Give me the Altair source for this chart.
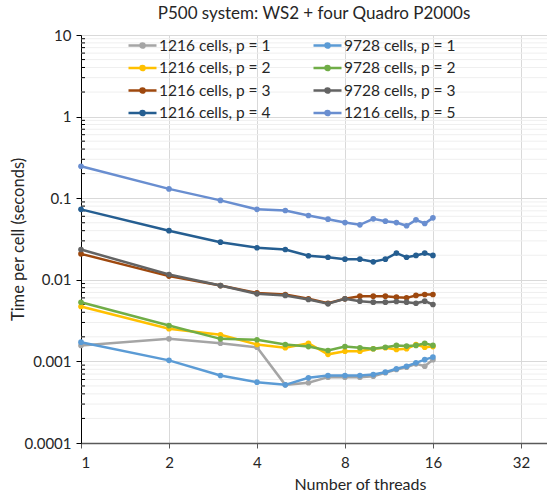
import altair as alt
import pandas as pd

# ---------------- data ----------------
threads = list(range(1, 17))

series_names = [
    "1216 cells, p = 1", "9728 cells, p = 1",
    "1216 cells, p = 2", "9728 cells, p = 2",
    "1216 cells, p = 3", "9728 cells, p = 3",
    "1216 cells, p = 4", "1216 cells, p = 5",
]
series_colors = ["#A5A5A5", "#5B9BD5", "#FFC000", "#70AD47",
                 "#9E480E", "#636363", "#255E91", "#698ED0"]
# legend lists column by column
legend_order = [
    "1216 cells, p = 1", "1216 cells, p = 2", "1216 cells, p = 3", "1216 cells, p = 4",
    "9728 cells, p = 1", "9728 cells, p = 2", "9728 cells, p = 3", "1216 cells, p = 5",
]

t_1216_p1 = [0.00157, 0.00189, 0.00167, 0.00149, 0.000516, 0.000547, 0.000641, 0.000641,
             0.000641, 0.000659, 0.000725, 0.000796, 0.000849, 0.000933, 0.000873, 0.00105]
t_9728_p1 = [0.00172, 0.00103, 0.000671, 0.000556, 0.000516, 0.000629, 0.000672, 0.000672,
             0.000672, 0.00069, 0.000738, 0.000811, 0.000873, 0.000961, 0.00105, 0.00113]
t_1216_p2 = [0.00471, 0.00251, 0.00212, 0.00161, 0.00147, 0.00167, 0.00122, 0.00133,
             0.00133, 0.00143, 0.00147, 0.00140, 0.00143, 0.00161, 0.00149, 0.00152]
t_9728_p2 = [0.00531, 0.00275, 0.00189, 0.00184, 0.00161, 0.00152, 0.00136, 0.00152,
             0.00147, 0.00143, 0.00149, 0.00157, 0.00154, 0.00157, 0.00167, 0.00157]
t_1216_p3 = [0.0208, 0.0111, 0.0085, 0.0069, 0.00661, 0.00585, 0.00516, 0.00585,
             0.0063, 0.0063, 0.0063, 0.00612, 0.00601, 0.00643, 0.00661, 0.00661]
t_9728_p3 = [0.0235, 0.0116, 0.0085, 0.00673, 0.00643, 0.00574, 0.00508, 0.00585,
             0.00547, 0.00532, 0.00532, 0.00542, 0.00532, 0.00516, 0.00547, 0.00498]
t_1216_p4 = [0.073, 0.040, 0.0289, 0.0247, 0.0235, 0.0197, 0.0189, 0.0179,
             0.0179, 0.0166, 0.0179, 0.0212, 0.0189, 0.0199, 0.0212, 0.0199]
t_1216_p5 = [0.246, 0.130, 0.094, 0.073, 0.0706, 0.0614, 0.0553, 0.0503,
             0.0472, 0.0559, 0.0523, 0.0503, 0.0459, 0.0543, 0.049, 0.0574]

series_values = [t_1216_p1, t_9728_p1, t_1216_p2, t_9728_p2,
                 t_1216_p3, t_9728_p3, t_1216_p4, t_1216_p5]

x_ticks = [1, 2, 4, 8, 16, 32]
y_major = [0.0001, 0.001, 0.01, 0.1, 1, 10]
y_minor = [m * 10.0 ** e for e in range(-4, 1) for m in range(2, 10)]

rows = []
for name, vals in zip(series_names, series_values):
    for t, v in zip(threads, vals):
        rows.append({"threads": t, "time": v, "series": name})
df = pd.DataFrame(rows)
minor_df = pd.DataFrame({"time": y_minor})

# ---------------- layout ----------------
W, H = 466, 408
FONT = "Lato"
TXT = "#262626"

xscale = alt.Scale(type="log", base=2, domain=[1, 39.3], nice=False)
yscale = alt.Scale(type="log", domain=[0.0001, 10], nice=False)

x_axis = alt.Axis(values=x_ticks, format="~g", title="Number of threads",
                  grid=True, gridColor="#D9D9D9", tickSize=5, tickColor="#595959",
                  domainColor="#595959", domainWidth=1.5, labelFontSize=15,
                  labelPadding=7, titleFontSize=16, titleFontWeight="normal",
                  titleX=279, titleY=46, titleAlign="center", titleBaseline="alphabetic",
                  labelFont=FONT, titleFont=FONT, labelColor=TXT, titleColor=TXT)
y_axis = alt.Axis(values=y_major, format="~g", title="Time per cell (seconds)",
                  grid=True, gridColor="#D9D9D9", tickSize=5, tickColor="#000000",
                  domainColor="#000000", labelFontSize=15, labelPadding=5,
                  titleFontSize=16.5, titleFontWeight="normal",
                  titleX=-63, titleY=H / 2, titleAngle=270, titleAlign="center",
                  titleBaseline="middle",
                  labelFont=FONT, titleFont=FONT, labelColor=TXT, titleColor=TXT)

legend_symbol = "M-1,0H3M1.3,0A0.3,0.3,0,1,1,0.7,0A0.3,0.3,0,1,1,1.3,0Z"
legend = alt.Legend(orient="none", legendX=46, legendY=2, columns=2, title=None,
                    symbolType=legend_symbol, symbolSize=196, symbolStrokeWidth=2.5,
                    labelFontSize=15.5, labelFont=FONT, labelColor=TXT, labelOffset=15,
                    rowPadding=5.5, columnPadding=37, padding=0, labelLimit=300)

color_enc = alt.Color("series:N",
                      scale=alt.Scale(domain=legend_order,
                                      range=[series_colors[series_names.index(n)]
                                             for n in legend_order]),
                      legend=legend)

minor_grid = alt.Chart(minor_df).mark_rule(color="#EFEFEF", strokeWidth=1).encode(
    y=alt.Y("time:Q", scale=yscale, axis=y_axis),
    x=alt.value(0), x2=alt.value(W))
minor_ticks = alt.Chart(minor_df).mark_rule(color="#000000", strokeWidth=1).encode(
    y=alt.Y("time:Q", scale=yscale, axis=y_axis),
    x=alt.value(0), x2=alt.value(4))

layers = [minor_grid, minor_ticks]
for name in series_names:
    base = alt.Chart(df).transform_filter(alt.datum.series == name)
    enc = dict(x=alt.X("threads:Q", scale=xscale, axis=x_axis),
               y=alt.Y("time:Q", scale=yscale, axis=y_axis),
               color=color_enc)
    line = base.mark_line(strokeWidth=2.5).encode(**enc)
    pts = base.mark_circle(size=32, opacity=1).encode(**enc)
    layers += [line, pts]

chart = alt.layer(*layers).properties(
    width=W, height=H,
    title=alt.TitleParams("P500 system: WS2 + four Quadro P2000s", fontSize=17,
                          font=FONT, fontWeight="normal", color=TXT,
                          anchor="middle", frame="group", offset=5),
    autosize=alt.AutoSizeParams(type="none"),
    padding={"left": 81, "top": 35, "right": 0, "bottom": 52},
).configure_view(stroke=None).configure(background="white")

chart.save("out.html", embed_options={"renderer": "svg", "actions": False})
